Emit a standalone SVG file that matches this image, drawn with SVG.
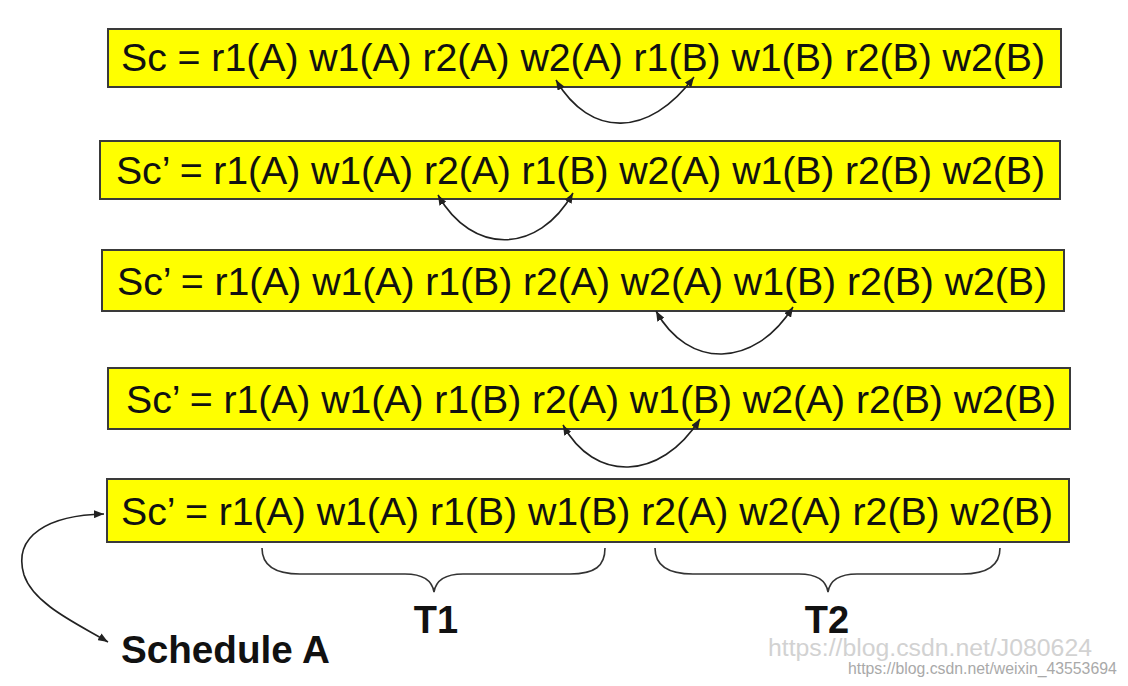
<svg xmlns="http://www.w3.org/2000/svg" width="1128" height="686" viewBox="0 0 1128 686">
  <style>
    .box { fill: #ffff00; stroke: #3a3a3a; stroke-width: 2; }
    .t { font-family: "Liberation Sans", Arial, sans-serif; font-size: 39.3px; fill: #111; }
    .b { font-family: "Liberation Sans", Arial, sans-serif; font-weight: bold; fill: #111; }
    .arr { fill: none; stroke: #222; stroke-width: 1.6; marker-start: url(#ah); marker-end: url(#ah); }
    .brace { fill: none; stroke: #333; stroke-width: 1.6; }
    .wm { font-family: "Liberation Sans", Arial, sans-serif; }
  </style>
  <defs>
    <marker id="ah" viewBox="0 0 10 8" refX="10" refY="4" markerWidth="10" markerHeight="8" orient="auto-start-reverse" markerUnits="userSpaceOnUse">
      <path d="M0,0 L10,4 L0,8 z" fill="#222"/>
    </marker>
  </defs>
  <rect width="1128" height="686" fill="#ffffff"/>

  <g id="sc1">
    <rect class="box" x="108" y="29" width="953" height="58"/>
    <text class="t" x="121" y="71" textLength="924" lengthAdjust="spacing">Sc = r1(A) w1(A) r2(A) w2(A) r1(B) w1(B) r2(B) w2(B)</text>
  </g>
  <g id="sc2">
    <rect class="box" x="100" y="141" width="960" height="58"/>
    <text class="t" x="116" y="184" textLength="929" lengthAdjust="spacing">Sc’ = r1(A) w1(A) r2(A) r1(B) w2(A) w1(B) r2(B) w2(B)</text>
  </g>
  <g id="sc3">
    <rect class="box" x="102" y="250" width="962" height="61"/>
    <text class="t" x="117" y="295" textLength="930" lengthAdjust="spacing">Sc’ = r1(A) w1(A) r1(B) r2(A) w2(A) w1(B) r2(B) w2(B)</text>
  </g>
  <g id="sc4">
    <rect class="box" x="108" y="368" width="962" height="61"/>
    <text class="t" x="126" y="413" textLength="930" lengthAdjust="spacing">Sc’ = r1(A) w1(A) r1(B) r2(A) w1(B) w2(A) r2(B) w2(B)</text>
  </g>
  <g id="sc5">
    <rect class="box" x="107" y="479" width="962" height="63"/>
    <text class="t" x="121" y="525" textLength="932" lengthAdjust="spacing">Sc’ = r1(A) w1(A) r1(B) w1(B) r2(A) w2(A) r2(B) w2(B)</text>
  </g>

  <g id="schedule-a">
    <text class="b" x="121" y="663" font-size="38.5" textLength="209" lengthAdjust="spacingAndGlyphs">Schedule A</text>
  </g>
  <g id="t1">
    <path class="brace" d="M262,548 C262,566 275,574 300,574 L405,574 C422,574 432,580 434,592 C436,580 446,574 463,574 L570,574 C595,574 605,566 605,548"/>
    <text class="b" x="436" y="633" font-size="38" text-anchor="middle">T1</text>
  </g>
  <g id="t2">
    <path class="brace" d="M655,548 C655,566 668,574 693,574 L799,574 C816,574 826,580 828,592 C830,580 840,574 857,574 L962,574 C987,574 1000,566 1000,548"/>
    <text class="b" x="827" y="633" font-size="38" text-anchor="middle">T2</text>
  </g>

  <g id="connectors">
    <path class="arr" d="M556,80 C590,138 649,138 694,77"/>
    <path class="arr" d="M438,195 C472,255 538,255 573,193"/>
    <path class="arr" d="M656,311 C688,369 754,369 793,307"/>
    <path class="arr" d="M563,425 C594,482 660,482 700,419"/>
    <path class="arr" d="M104,514 C50,515 12,535 24,575 C34,605 80,625 108,642"/>
  </g>

  <g id="watermark">
    <text class="wm" x="768" y="656" font-size="24.8" fill="#d2d2d2">https://blog.csdn.net/J080624</text>
    <text class="wm" x="848" y="674" font-size="15.8" fill="#a9a9a9">https://blog.csdn.net/weixin_43553694</text>
  </g>
</svg>
